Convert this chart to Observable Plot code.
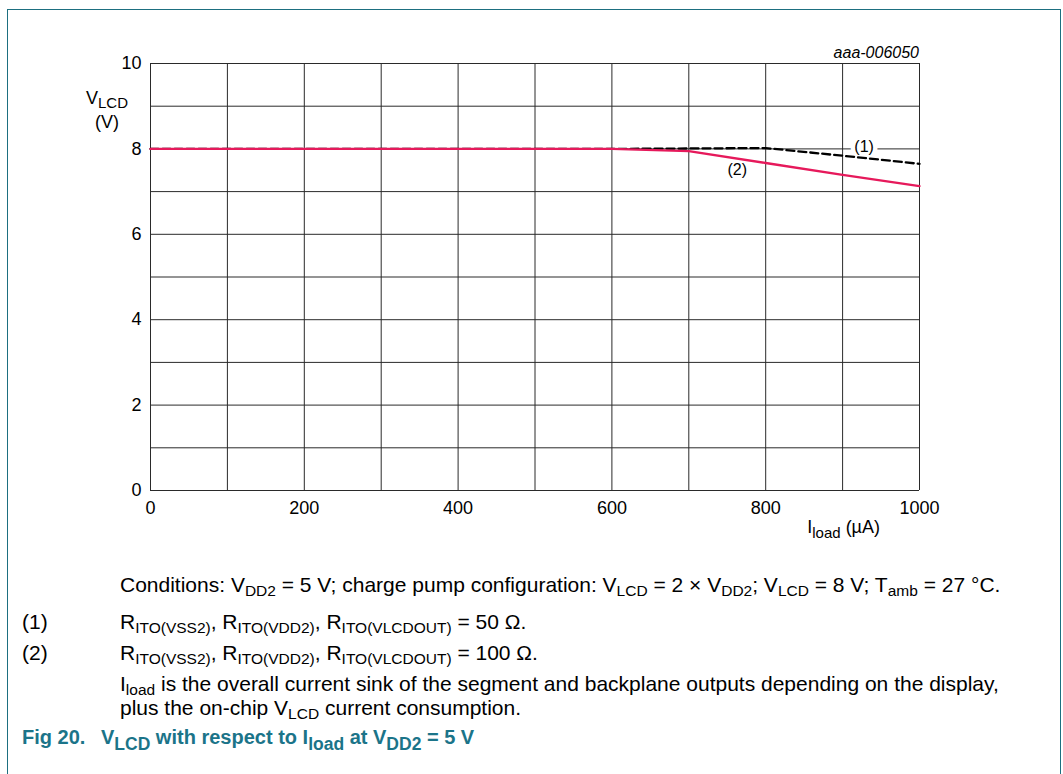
<!DOCTYPE html>
<html>
<head>
<meta charset="utf-8">
<script src="https://cdn.jsdelivr.net/npm/d3@7"></script>
<script src="https://cdn.jsdelivr.net/npm/@observablehq/plot@0.6"></script>
<style>
  html, body { margin: 0; padding: 0; background: #fff; }
  body { width: 1063px; height: 774px; position: relative; overflow: hidden;
         font-family: "Liberation Sans", Arial, sans-serif; color: #000; }
  #frame { position: absolute; left: 7px; top: 9px; width: 1052px; height: 800px;
           border: 1.5px solid #1d6f80; border-bottom: none; }
  #chart { position: absolute; left: 0; top: 0; }
  .cap { position: absolute; font-size: 21px; line-height: 20px; white-space: nowrap; }
  .cap sub { font-size: 15.5px; vertical-align: -4px; line-height: 0; }
  .ttl { position: absolute; top: 726px; font-size: 20px; line-height: 22px; font-weight: bold; color: #1b7489; white-space: nowrap; }
  .ttl sub { font-size: 17.5px; vertical-align: -6px; line-height: 0; }
</style>
</head>
<body>
<div id="frame"></div>
<div id="chart"></div>
<div class="cap" style="left:120px; top:575px">Conditions: V<sub>DD2</sub> = 5 V; charge pump configuration: V<sub>LCD</sub> = 2 × V<sub>DD2</sub>; V<sub>LCD</sub> = 8 V; T<sub>amb</sub> = 27 °C.</div>
<div class="cap" style="left:22px; top:612px">(1)</div>
<div class="cap" style="left:120px; top:612px">R<sub>ITO(VSS2)</sub>, R<sub>ITO(VDD2)</sub>, R<sub>ITO(VLCDOUT)</sub> = 50 Ω.</div>
<div class="cap" style="left:22px; top:643px">(2)</div>
<div class="cap" style="left:120px; top:643px">R<sub>ITO(VSS2)</sub>, R<sub>ITO(VDD2)</sub>, R<sub>ITO(VLCDOUT)</sub> = 100 Ω.</div>
<div class="cap" style="left:120px; top:674px">I<sub>load</sub> is the overall current sink of the segment and backplane outputs depending on the display,</div>
<div class="cap" style="left:120px; top:698px">plus the on-chip V<sub>LCD</sub> current consumption.</div>
<div class="ttl" style="left:22px">Fig 20.</div>
<div class="ttl" style="left:101px">V<sub>LCD</sub> with respect to I<sub>load</sub> at V<sub>DD2</sub> = 5 V</div>
<script>
// Data
const iload = [0, 100, 200, 300, 400, 500, 600, 700, 800, 900, 1000];       // µA
const vlcd1 = [8, 8, 8, 8, 8, 8, 8, 8.01, 8.02, 7.84, 7.65];               // (1) 50 Ω
const vlcd2 = [8, 8, 8, 8, 8, 8, 8, 7.95, 7.67, 7.39, 7.13];               // (2) 100 Ω
const xTicks = [0, 200, 400, 600, 800, 1000];
const yTicks = [0, 2, 4, 6, 8, 10];
const xGrid = [0, 100, 200, 300, 400, 500, 600, 700, 800, 900, 1000];
const yGrid = [0, 1, 2, 3, 4, 5, 6, 7, 8, 9, 10];
const curveLabels = [
  {x: 928, y: 8.0, text: "(1)"},
  {x: 763, y: 7.5, text: "(2)"}
];

const s1 = iload.map((x, i) => ({x, y: vlcd1[i]}));
const s2 = iload.map((x, i) => ({x, y: vlcd2[i]}));

const fam = "'Liberation Sans', Arial, sans-serif";
const chart = Plot.plot({
  width: 1063,
  height: 560,
  marginLeft: 150,
  marginRight: 144,
  marginTop: 63,
  marginBottom: 70,
  style: {fontFamily: fam, fontSize: "18px", background: "transparent", color: "#000"},
  x: {domain: [0, 1000], label: null},
  y: {domain: [0, 10], label: null},
  marks: [
    Plot.ruleX(xGrid, {stroke: "#2a2a2a", strokeWidth: 1}),
    Plot.ruleY(yGrid, {stroke: "#2a2a2a", strokeWidth: 1}),
    Plot.text(curveLabels.slice(0, 1), {x: "x", y: "y", text: "text", fontSize: 16, fill: "#000", stroke: "white", strokeWidth: 9, dy: -2}),
    Plot.line(s1, {x: "x", y: "y", stroke: "#000", strokeWidth: 2.3, strokeDasharray: "8,4"}),
    Plot.line(s2, {x: "x", y: "y", stroke: "#e6195b", strokeWidth: 2.3}),
    Plot.text(curveLabels.slice(1), {x: "x", y: "y", text: "text", fontSize: 16, fill: "#000"}),
    Plot.axisX({ticks: xTicks, tickSize: 0, tickPadding: 11, fontSize: 18, tickFormat: "d", label: null}),
    Plot.axisY({ticks: yTicks, tickSize: 0, tickPadding: 9, fontSize: 18, tickFormat: "d", label: null})
  ]
});
document.getElementById("chart").appendChild(chart);

// Axis titles and identifier, positioned from the plot's scales
const sx = chart.scale("x"), sy = chart.scale("y");
const svg = d3.select(chart);

const yl = svg.append("text").attr("x", sx.apply(0) - 43).attr("y", sy.apply(9.05))
  .attr("text-anchor", "middle").attr("font-family", fam).attr("font-size", 18);
yl.append("tspan").text("V");
yl.append("tspan").attr("font-size", 15).attr("dy", 4).text("LCD");
svg.append("text").attr("x", sx.apply(0) - 43).attr("y", sy.apply(8.48))
  .attr("text-anchor", "middle").attr("font-family", fam).attr("font-size", 18).text("(V)");

const xl = svg.append("text").attr("x", sx.apply(1000) - 39).attr("y", sy.apply(0) + 43)
  .attr("text-anchor", "end").attr("font-family", fam).attr("font-size", 18);
xl.append("tspan").text("I");
xl.append("tspan").attr("font-size", 15).attr("dy", 5).text("load");
xl.append("tspan").attr("dy", -5).text(" (µA)");

svg.append("text").attr("x", sx.apply(1000)).attr("y", sy.apply(10) - 5)
  .attr("text-anchor", "end").attr("font-family", fam).attr("font-size", 16)
  .attr("font-style", "italic").text("aaa-006050");
</script>
</body>
</html>
